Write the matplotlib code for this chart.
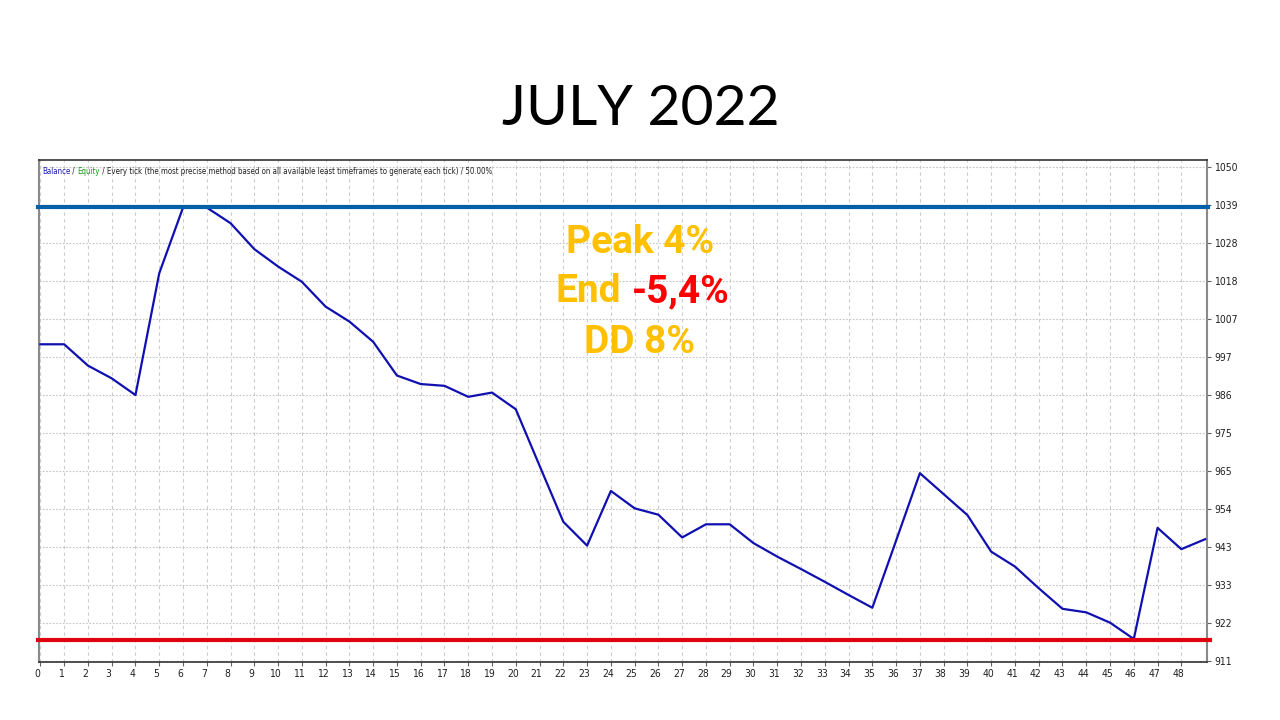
import numpy as np
import matplotlib
matplotlib.use("Agg")
import matplotlib.pyplot as plt
import matplotlib.transforms as mtransforms
from matplotlib import font_manager as fm

# balance after each trade
trade_no = list(range(50))
balance = [1000.2, 1000.2, 994.2, 990.6, 985.9, 1020.2, 1038.7, 1038.7, 1034.3, 1027.0,
           1022.1, 1017.8, 1010.8, 1006.6, 1000.9, 991.4, 989.0, 988.5, 985.4, 986.6,
           981.9, 966.0, 950.2, 943.5, 958.9, 954.0, 952.2, 945.8, 949.5, 949.5,
           944.2, 940.4, 936.9, 933.3, 929.6, 926.0, 944.9, 963.9, 958.0, 952.1,
           941.8, 937.6, 931.5, 925.7, 924.7, 921.8, 917.2, 948.5, 942.5, 945.3]
peak_level = 1038.8
low_level = 916.8

y_tick_labels = ["911", "922", "933", "943", "954", "965", "975", "986", "997",
                 "1007", "1018", "1028", "1039", "1050"]
x_tick_labels = [str(i) for i in range(49)]

header = [("Balance", "#1a1ab0"), (" / ", "#202020"), ("Equity", "#10a010"),
          (" / Every tick (the most precise method based on all available least "
           "timeframes to generate each tick) / 50.00%", "#202020")]


def find_face(candidates, must_have):
    for fam, stretch, weight in candidates:
        fp = fm.FontProperties(family=fam, stretch=stretch, weight=weight)
        try:
            path = fm.findfont(fp, fallback_to_default=False)
        except Exception:
            continue
        name = path.lower()
        if any(k in name for k in must_have):
            return dict(family=[fam, "DejaVu Sans"], stretch=stretch, weight=weight), True
    return None, False


small_kw, small_ok = find_face([("Liberation Sans Narrow", "normal", "normal"),
                                ("DejaVu Sans", "condensed", "normal")],
                               ["narrow", "condensed"])
if not small_ok:
    small_kw = dict(family=["Liberation Sans", "DejaVu Sans"])

big_kw = dict(family=["Roboto", "DejaVu Sans"], weight="bold")
title_kw = dict(family=["Lato", "DejaVu Sans"], weight="normal")

fig = plt.figure(figsize=(12.8, 7.2), dpi=100)
W, H = 1280, 720
left, right, top, bottom = 38.5, 1207, 160, 662
ax = fig.add_axes([left / W, 1 - bottom / H, (right - left) / W, (bottom - top) / H])

ax.plot(trade_no, balance, color="#1010b0", lw=1.6, zorder=3)
ax.plot([-0.12, 49.12], [peak_level, peak_level], color="#0061a8", lw=3, clip_on=False, zorder=4)
ax.plot([-0.12, 49.2], [low_level, low_level], color="#e00012", lw=3, clip_on=False, zorder=4)

ax.set_xlim(-0.08, 49.08)
ax.set_ylim(910.72, 1052.1)

ax.set_xticks(range(49))
ax.set_xticklabels(x_tick_labels, fontsize=7.5, color="#202020", **small_kw)
ax.set_yticks(np.linspace(911, 1050, 14))
ax.set_yticklabels(y_tick_labels, fontsize=7.5, color="#202020", **small_kw)
ax.yaxis.tick_right()
ax.tick_params(axis="both", length=3, width=0.8, color="#606060", pad=2)

shift = mtransforms.ScaledTranslation(-3 / 100, 0, fig.dpi_scale_trans)
for lab in ax.get_xticklabels():
    lab.set_transform(lab.get_transform() + shift)

ax.grid(axis="x", color="#cccccc", linestyle=(0, (3, 3)), lw=0.8)
ax.grid(axis="y", color="#c4c4c4", linestyle=(0, (1.5, 1.5)), lw=0.8)

for side in ["left", "right"]:
    ax.spines[side].set_color("#8a8a8a")
    ax.spines[side].set_linewidth(1.5)
for side in ["top", "bottom"]:
    ax.spines[side].set_color("#333333")
    ax.spines[side].set_linewidth(1.2)

# header line of the tester graph, in pieces for the colours
hsize = 5.7
t = ax.text(0.003, 0.978, header[0][0], transform=ax.transAxes, va="center", ha="left",
            fontsize=hsize, color=header[0][1], **small_kw)
for s, c in header[1:]:
    t = ax.annotate(s, xy=(1, 0), xycoords=t, va="bottom", ha="left",
                    fontsize=hsize, color=c, **small_kw)

# big labels
gold = "#ffc000"
bsize = 28
fig.text(640 / W, 1 - 253 / H, "Peak 4%", ha="center", va="baseline", fontsize=bsize,
         color=gold, **big_kw)
fig.text(621 / W, 1 - 302 / H, "End", ha="right", va="baseline", fontsize=bsize,
         color=gold, **big_kw)
fig.text(632 / W, 1 - 302 / H, "-5,4%", ha="left", va="baseline", fontsize=bsize,
         color="#ff0000", **big_kw)
fig.text(639.5 / W, 1 - 353 / H, "DD 8%", ha="center", va="baseline", fontsize=bsize,
         color=gold, **big_kw)

fig.text(641 / W, 1 - 125 / H, "JULY 2022", ha="center", va="baseline", fontsize=41,
         color="black", **title_kw)

fig.savefig("out.png", dpi=100, facecolor="white")
